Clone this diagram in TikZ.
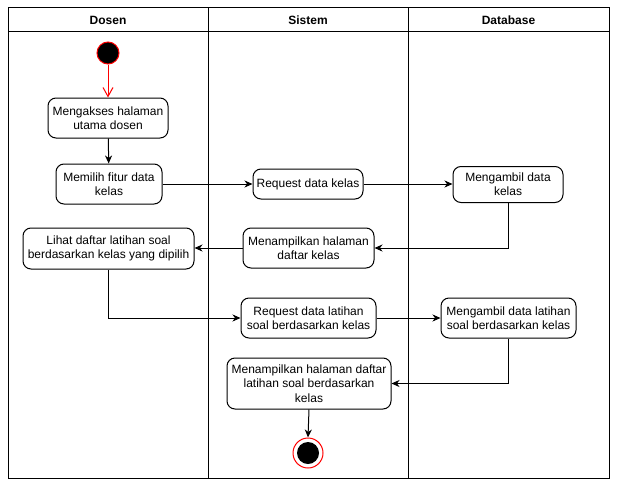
\documentclass[tikz,border=0pt]{standalone}
\usepackage{fontspec}
\setmainfont{Liberation Sans}
\usetikzlibrary{arrows.meta}
\begin{document}
\begin{tikzpicture}[x=1pt,y=-1pt,
  act/.style={draw, rounded corners=8pt, line width=1pt, align=center, inner sep=0pt,
    font=\fontsize{12}{14.4}\selectfont, fill=white},
  flow/.style={draw, line width=1pt, -{Stealth[length=8pt,width=7pt,inset=2.5pt]}},
  lane/.style={draw, line width=1pt},
  hdr/.style={font=\fontsize{12}{14.4}\selectfont\bfseries}]
\useasboundingbox (0,0) rectangle (617,487);
% swimlanes
\draw[lane] (8,8) rectangle (609,478);
\draw[lane] (8,32) -- (609,32);
\draw[lane] (208,8) -- (208,478);
\draw[lane] (408,8) -- (408,478);
\node[hdr] (h1) at (108,20) {Dosen};
\node[hdr] (h2) at (308,20) {Sistem};
\node[hdr] (h3) at (508.5,20) {Database};
% nodes
\node[circle, draw=red, fill=black, line width=1pt, minimum size=22pt, inner sep=0pt] (start) at (108,53) {};
\node[act, minimum width=120pt, minimum height=40pt] (n1) at (108,118) {Mengakses halaman\\utama dosen};
\node[act, minimum width=106pt, minimum height=40pt] (n2) at (109,184) {Memilih fitur data\\kelas};
\node[act, minimum width=110pt, minimum height=30pt] (n3) at (308,184) {Request data kelas};
\node[act, minimum width=110pt, minimum height=36pt] (n4) at (508,184.5) {Mengambil data\\kelas};
\node[act, minimum width=131pt, minimum height=40pt] (n5) at (308.5,248) {Menampilkan halaman\\daftar kelas};
\node[act, minimum width=171pt, minimum height=41pt] (n6) at (108.5,248.5) {Lihat daftar latihan soal\\berdasarkan kelas yang dipilih};
\node[act, minimum width=135pt, minimum height=40pt] (n7) at (308.5,318) {Request data latihan\\soal berdasarkan kelas};
\node[act, minimum width=135pt, minimum height=40pt] (n8) at (508.5,318) {Mengambil data latihan\\soal berdasarkan kelas};
\node[act, minimum width=164pt, minimum height=51pt] (n9) at (309,383.5) {Menampilkan halaman daftar\\latihan soal berdasarkan\\kelas};
\node[circle, draw=red, fill=white, line width=1pt, minimum size=30pt, inner sep=0pt] (end) at (308,453) {};
\fill (end.center) circle (11pt);
% edges
\draw[draw=red, line width=1pt, -{Straight Barb[length=9pt,width=10pt]}] (start) -- (n1);
\draw[flow] (n1) -- (n2);
\draw[flow] (n2.east |- n3.west) -- (n3.west);
\draw[flow] (n3.east) -- (n4.west |- n3.east);
\draw[flow] (n4.south) |- (n5.east);
\draw[flow] (n5.west) -- (n6.east |- n5.west);
\draw[flow] (n6.south) |- (n7.west);
\draw[flow] (n7.east) -- (n8.west);
\draw[flow] (n8.south) |- (n9.east);
\draw[flow] (n9.south) -- (end.north);
\end{tikzpicture}
\end{document}
